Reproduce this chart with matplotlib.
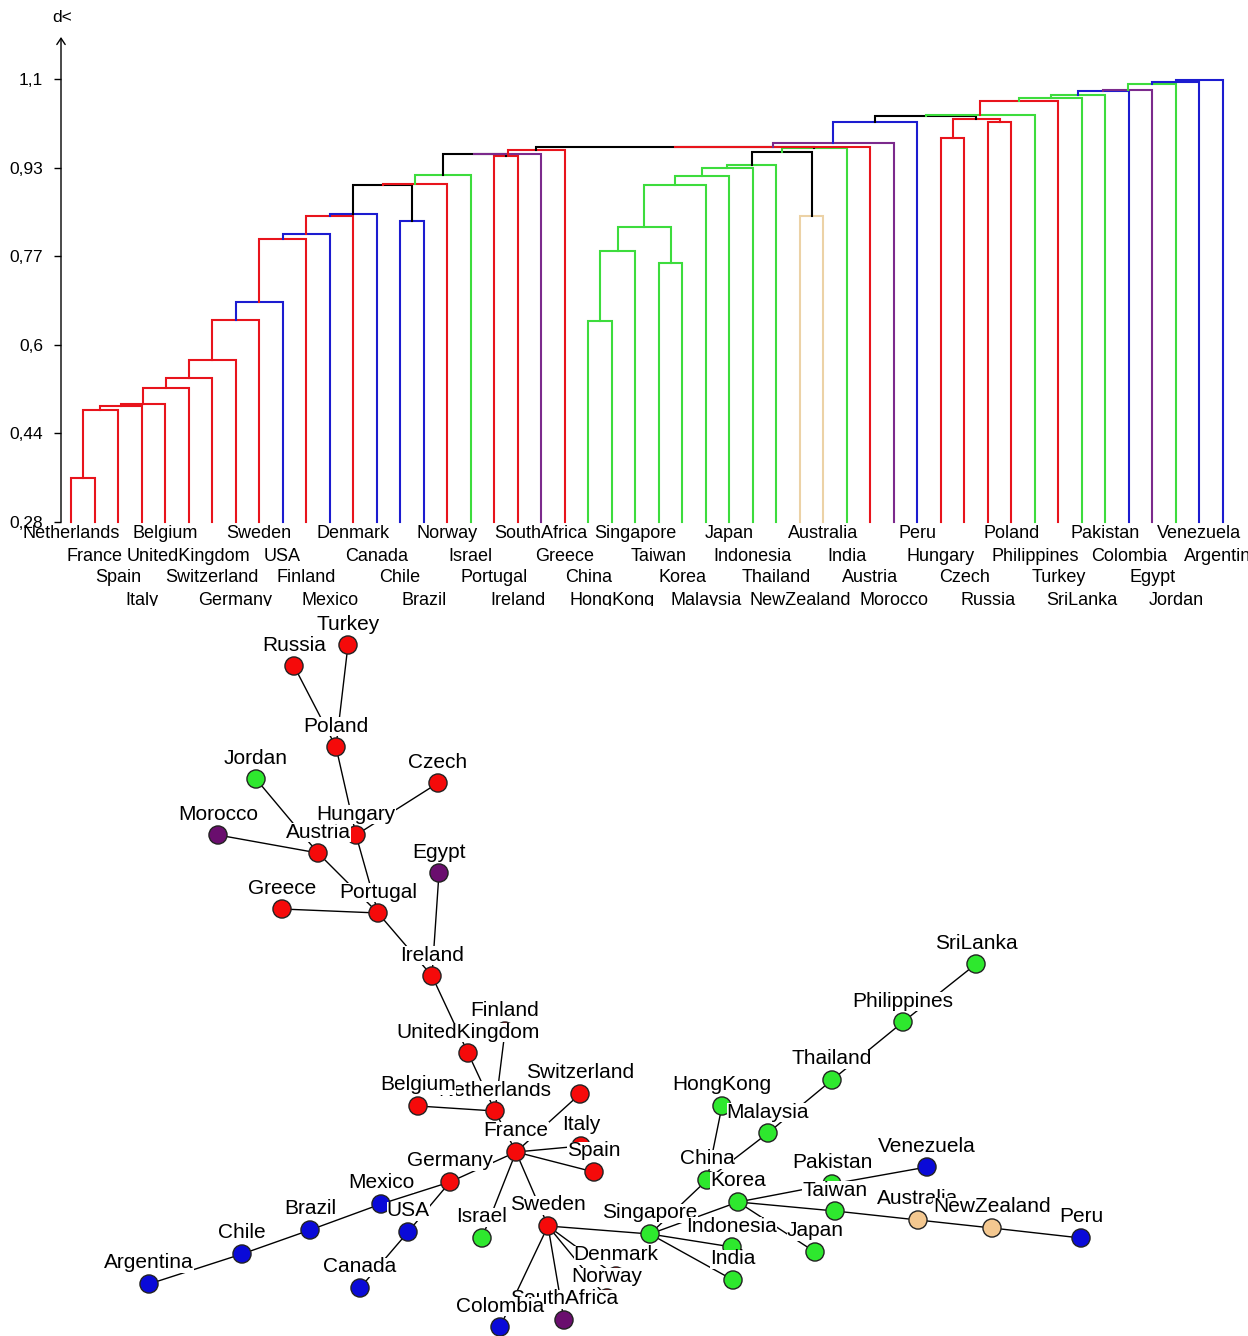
import matplotlib
matplotlib.use("Agg")
import matplotlib.pyplot as plt

plt.rcParams['font.family'] = ['Liberation Sans', 'DejaVu Sans']

# ---------------- dendrogram data ----------------
# leaves in the order they appear along the axis
leaves = ["Netherlands", "France", "Spain", "Italy", "Belgium", "UnitedKingdom",
          "Switzerland", "Germany", "Sweden", "USA", "Finland", "Mexico",
          "Denmark", "Canada", "Chile", "Brazil", "Norway", "Israel",
          "Portugal", "Ireland", "SouthAfrica", "Greece", "China", "HongKong",
          "Singapore", "Taiwan", "Korea", "Malaysia", "Japan", "Indonesia",
          "Thailand", "NewZealand", "Australia", "India", "Austria", "Morocco",
          "Peru", "Hungary", "Czech", "Russia", "Poland", "Philippines",
          "Turkey", "SriLanka", "Pakistan", "Colombia", "Egypt", "Jordan",
          "Venezuela", "Argentina"]

# merges: "m<k>" refers to merge number k
merge_left = ["Netherlands", "m0", "m1", "m2", "m3", "m4", "m5", "m6", "m7", "m8",
              "m9", "m10", "m11", "Chile", "m12", "m14", "m15", "Portugal", "m16", "m18",
              "m19", "China", "m21", "Taiwan", "m22", "m24", "m25", "m26", "m27", "NewZealand",
              "m28", "m30", "m20", "m32", "m33", "m34", "Hungary", "Russia", "m36", "m35",
              "m39", "m40", "m41", "m42", "m43", "m44", "m45", "m46", "m47"]
merge_right = ["France", "Spain", "Italy", "Belgium", "UnitedKingdom", "Switzerland", "Germany", "Sweden", "USA", "Finland",
               "Mexico", "Denmark", "Canada", "Brazil", "m13", "Norway", "Israel", "Ireland", "m17", "SouthAfrica",
               "Greece", "HongKong", "Singapore", "Korea", "m23", "Malaysia", "Japan", "Indonesia", "Thailand", "Australia",
               "m29", "India", "m31", "Austria", "Morocco", "Peru", "Czech", "Poland", "m37", "m38",
               "Philippines", "Turkey", "SriLanka", "Pakistan", "Colombia", "Egypt", "Jordan", "Venezuela", "Argentina"]
merge_height = [0.362, 0.487, 0.495, 0.498, 0.528, 0.546, 0.580, 0.654, 0.688, 0.804,
                0.813, 0.847, 0.850, 0.838, 0.904, 0.905, 0.922, 0.958, 0.961, 0.962,
                0.968, 0.652, 0.782, 0.760, 0.826, 0.903, 0.921, 0.936, 0.940, 0.846,
                0.965, 0.973, 0.974, 0.975, 0.9825, 1.021, 0.990, 1.020, 1.0265, 1.031,
                1.034, 1.0585, 1.065, 1.070, 1.077, 1.080, 1.090, 1.095, 1.099]
merge_group = ["EU", "EU", "EU", "EU", "EU", "EU", "EU", "EU", "AM", "EU",
               "AM", "EU", "AM", "AM", "MIX", "EU", "AS", "EU", "MIX", "AF",
               "EU", "AS", "AS", "AS", "AS", "AS", "AS", "AS", "AS", "OC",
               "MIX", "AS", "MIX", "EU", "AF", "AM", "EU", "EU", "EU", "MIX",
               "AS", "EU", "AS", "AS", "AM", "AF", "AS", "AM", "AM"]

y_ticks = [0.28, 0.444, 0.608, 0.772, 0.936, 1.1]
y_tick_labels = ["0,28", "0,44", "0,6", "0,77", "0,93", "1,1"]

# ---------------- network (minimum spanning tree) data ----------------
node_names = ["Turkey", "Russia", "Poland", "Jordan", "Czech", "Morocco", "Austria",
              "Hungary", "Egypt", "Greece", "Portugal", "Ireland", "Finland",
              "UnitedKingdom", "Netherlands", "Belgium", "Switzerland", "Italy",
              "France", "Spain", "Germany", "Mexico", "USA", "Brazil", "Chile",
              "Argentina", "Canada", "Israel", "Sweden", "Denmark", "Norway",
              "SouthAfrica", "Colombia", "Singapore", "India", "Indonesia", "China",
              "HongKong", "Malaysia", "Thailand", "Philippines", "SriLanka", "Korea",
              "Pakistan", "Taiwan", "Venezuela", "Japan", "Australia", "NewZealand", "Peru"]
node_x = [348, 294, 336, 256, 438, 218, 318, 356, 439, 282, 378, 432, 505,
          468, 495, 418, 580, 581, 516, 594, 450, 381, 408, 310, 242,
          149, 360, 482, 548, 616, 607, 564, 500, 650, 733, 732, 707,
          722, 768, 832, 903, 976, 738, 832, 835, 927, 815, 918, 992, 1081]
node_y = [645, 666, 747, 779, 783, 835, 853, 835, 873, 909, 913, 976, 1031,
          1053, 1111, 1106, 1094, 1146, 1152, 1172, 1182, 1204, 1232, 1230, 1254,
          1284, 1288, 1238, 1226, 1276, 1298, 1320, 1327, 1234, 1280, 1247, 1180,
          1106, 1133, 1080, 1022, 964, 1202, 1184, 1211, 1167, 1252, 1220, 1228, 1238]
node_group = ["EU", "EU", "EU", "AS", "EU", "AF", "EU", "EU", "AF", "EU", "EU", "EU", "EU",
              "EU", "EU", "EU", "EU", "EU", "EU", "EU", "EU", "AM", "AM", "AM", "AM",
              "AM", "AM", "AS", "EU", "EU", "EU", "AF", "AM", "AS", "AS", "AS", "AS",
              "AS", "AS", "AS", "AS", "AS", "AS", "AS", "AS", "AM", "AS", "OC", "OC", "AM"]
edges = [("Turkey", "Poland"), ("Russia", "Poland"), ("Poland", "Hungary"),
         ("Czech", "Hungary"), ("Hungary", "Portugal"), ("Jordan", "Austria"),
         ("Morocco", "Austria"), ("Austria", "Portugal"), ("Greece", "Portugal"),
         ("Portugal", "Ireland"), ("Egypt", "Ireland"), ("Ireland", "UnitedKingdom"),
         ("UnitedKingdom", "Netherlands"), ("Finland", "Netherlands"),
         ("Belgium", "Netherlands"), ("Netherlands", "France"), ("Switzerland", "France"),
         ("Italy", "France"), ("Spain", "France"), ("Germany", "France"),
         ("Israel", "France"), ("Sweden", "France"), ("Germany", "Mexico"),
         ("Germany", "USA"), ("USA", "Canada"), ("Mexico", "Brazil"),
         ("Brazil", "Chile"), ("Chile", "Argentina"), ("Sweden", "Singapore"),
         ("Sweden", "Denmark"), ("Sweden", "Norway"), ("Sweden", "Colombia"),
         ("Sweden", "SouthAfrica"), ("Singapore", "India"), ("Singapore", "Indonesia"),
         ("Singapore", "China"), ("Singapore", "Korea"), ("China", "HongKong"),
         ("China", "Malaysia"), ("Malaysia", "Thailand"), ("Thailand", "Philippines"),
         ("Philippines", "SriLanka"), ("Korea", "Taiwan"), ("Korea", "Pakistan"),
         ("Pakistan", "Venezuela"), ("Korea", "Japan"), ("Taiwan", "Australia"),
         ("Australia", "NewZealand"), ("NewZealand", "Peru")]

line_colors = {"EU": "#e8141c", "AM": "#1c1cd0", "AS": "#3ddc3d", "AF": "#7c2a8c",
               "OC": "#ecd2a6", "MIX": "#000000"}
node_colors = {"EU": "#f50a0a", "AM": "#0a0ad8", "AS": "#2ee82e", "AF": "#6a0e6e",
               "OC": "#f4c890"}

# labels written later cover earlier ones
label_order = [n for n in node_names if n != "Colombia"] + ["Colombia"]

W, H = 1248, 1336
fig = plt.figure(figsize=(W / 100, H / 100), dpi=100)
fig.patch.set_facecolor("white")

# ---------------- dendrogram ----------------
ax = fig.add_axes([61 / W, (H - 522) / H, (W - 61) / W, (522 - 37) / H])
ax.set_xlim((61 - 71) / 23.51, (W - 71) / 23.51)
ax.set_ylim(0.28, 0.28 + (522 - 37) / 540.2)
for s in ax.spines.values():
    s.set_visible(False)
ax.set_xticks([])
ax.set_yticks(y_ticks)
ax.set_yticklabels(y_tick_labels)
ax.tick_params(axis="y", direction="out", length=5, width=1, pad=8, labelsize=12.5)

base = 0.28
pos = {name: (i, base) for i, name in enumerate(leaves)}
for k in range(len(merge_height)):
    xa, ha = pos[merge_left[k]]
    xb, hb = pos[merge_right[k]]
    h = merge_height[k]
    ax.plot([xa, xa, xb, xb], [ha, h, h, hb], color=line_colors[merge_group[k]],
            lw=1.5, solid_joinstyle="miter", zorder=2 + k * 0.01, clip_on=False)
    pos["m%d" % k] = ((xa + xb) / 2, h)

row_offsets = [8.6, 24.5, 40.3, 56.2]
for i, name in enumerate(leaves):
    ax.annotate(name, xy=(i, base), xytext=(0, -row_offsets[i % 4]),
                textcoords="offset points", ha="center", va="center",
                fontsize=13, annotation_clip=False)

ax.annotate("", xy=(0, 1), xycoords="axes fraction", xytext=(0, 0),
            textcoords="axes fraction",
            arrowprops=dict(arrowstyle="->,head_length=0.45,head_width=0.3",
                            lw=1, color="black", shrinkA=0, shrinkB=0))
fig.text(62 / W, 1 - 18 / H, "d<", ha="center", va="center", fontsize=12.5)

# ---------------- minimum spanning tree ----------------
ax2 = fig.add_axes([108 / W, 0, (W - 108) / W, (H - 606) / H], zorder=5)
ax2.set_facecolor("white")
ax2.set_xlim(108, W)
ax2.set_ylim(H, 606)
for s in ax2.spines.values():
    s.set_visible(False)
ax2.set_xticks([])
ax2.set_yticks([])

idx = {n: i for i, n in enumerate(node_names)}
for a, b in edges:
    ia, ib = idx[a], idx[b]
    ax2.plot([node_x[ia], node_x[ib]], [node_y[ia], node_y[ib]],
             color="black", lw=1.0, zorder=1)

ax2.scatter(node_x, node_y, s=170, c=[node_colors[g] for g in node_group],
            edgecolors="#222222", linewidths=1.0, zorder=2)

for j, name in enumerate(label_order):
    i = idx[name]
    ax2.text(node_x[i], node_y[i] - 21, name, ha="center", va="center",
             fontsize=15, zorder=3 + j * 0.01,
             bbox=dict(boxstyle="square,pad=0", fc="white", ec="none"))

fig.savefig("out.png", dpi=100, facecolor="white")
